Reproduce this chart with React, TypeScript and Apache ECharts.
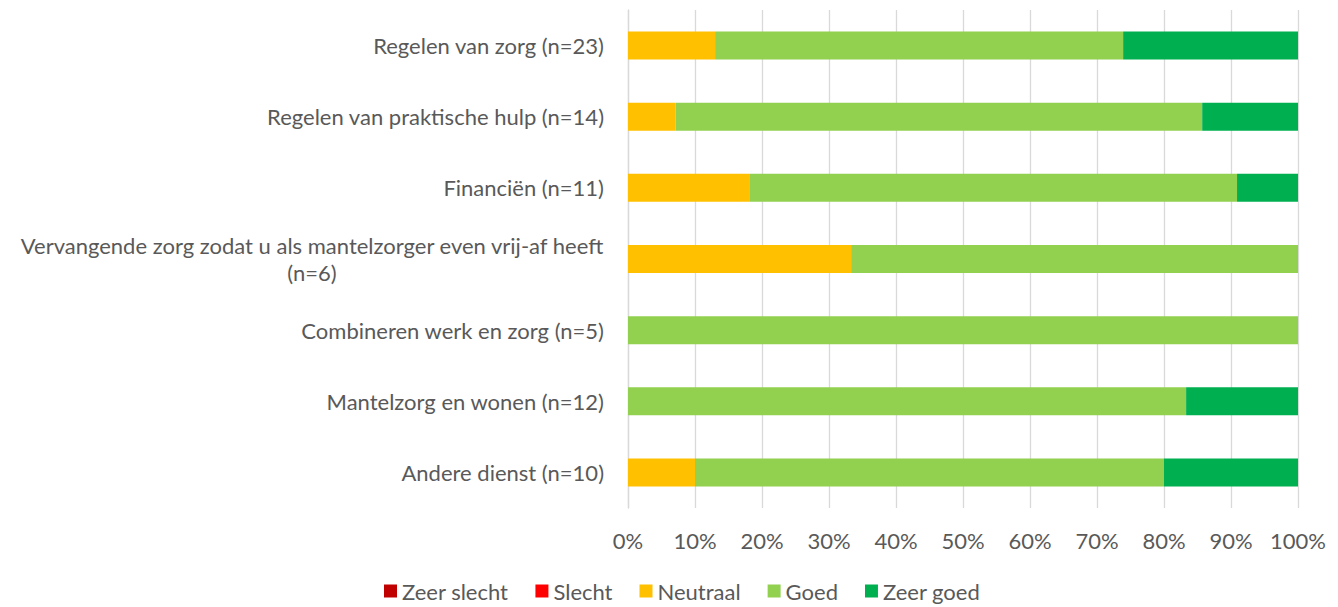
import React, { useEffect, useRef } from "react";
import * as echarts from "echarts";

const categories = [
  "Regelen van zorg (n=23)",
  "Regelen van praktische hulp (n=14)",
  "Financiën (n=11)",
  "Vervangende zorg zodat u als mantelzorger even vrij-af heeft\n(n=6)",
  "Combineren werk en zorg (n=5)",
  "Mantelzorg en wonen (n=12)",
  "Andere dienst (n=10)",
];

const seriesNames = ["Zeer slecht", "Slecht", "Neutraal", "Goed", "Zeer goed"];
const seriesColors = ["#C00000", "#FF0000", "#FFC000", "#92D050", "#00B050"];

const zeerSlecht = [0, 0, 0, 0, 0, 0, 0];
const slecht = [0, 0, 0, 0, 0, 0, 0];
const neutraal = [13.0, 7.1, 18.2, 33.3, 0, 0, 10.0];
const goed = [60.9, 78.6, 72.7, 66.7, 100, 83.3, 70.0];
const zeerGoed = [26.1, 14.3, 9.1, 0, 0, 16.7, 20.0];

const xTicks = [0, 10, 20, 30, 40, 50, 60, 70, 80, 90, 100];

const FONT = "Lato, 'Open Sans', sans-serif";
const FONT_SIZE = 22;

function measure(text: string): number {
  const c = document.createElement("canvas");
  const ctx = c.getContext("2d");
  if (!ctx) return text.length * 10;
  ctx.font = `${FONT_SIZE}px Lato`;
  return Math.ceil(ctx.measureText(text).width);
}

export default function App() {
  const ref = useRef<HTMLDivElement>(null);
  useEffect(() => {
    if (!ref.current) return;
    const chart = echarts.init(ref.current, null, { renderer: "svg" });
    const allData = [zeerSlecht, slecht, neutraal, goed, zeerGoed];
    const lineWidths: Record<string, number> = {};
    categories.forEach((c) => {
      const lines = c.split("\n");
      lineWidths[c] = Math.max(...lines.map(measure));
    });
    chart.setOption({
      animation: false,
      grid: { left: 628, right: 40, top: 10, bottom: 99, containLabel: false },
      legend: {
        bottom: 0,
        left: 379,
        itemWidth: 13,
        itemHeight: 13,
        itemGap: 27,
        icon: "rect",
        textStyle: { fontFamily: FONT, fontSize: FONT_SIZE, color: "#595959" },
        data: seriesNames,
      },
      xAxis: {
        type: "value",
        min: 0,
        max: 100,
        interval: 10,
        axisLine: { show: false },
        axisTick: { show: false },
        splitLine: { lineStyle: { color: "#D9D9D9", width: 1.3 } },
        axisLabel: {
          margin: 21,
          fontFamily: FONT,
          fontSize: FONT_SIZE,
          color: "#595959",
          formatter: (v: number) => (xTicks.includes(v) ? `${v}%` : ""),
        },
      },
      yAxis: {
        type: "category",
        inverse: true,
        data: categories,
        axisLine: { show: true, lineStyle: { color: "#D9D9D9", width: 1.3 } },
        axisTick: { show: false },
        axisLabel: {
          margin: 24,
          fontFamily: FONT,
          fontSize: FONT_SIZE,
          color: "#595959",
          lineHeight: 27,
          formatter: (v: string) => {
            const lines = v.split("\n");
            if (lines.length === 1) return v;
            return lines.map((l) => `{c|${l}}`).join("\n");
          },
          rich: {
            c: {
              width: lineWidths[categories[3]],
              align: "center",
              fontFamily: FONT,
              fontSize: FONT_SIZE,
              color: "#595959",
              lineHeight: 27,
            },
          },
        },
      },
      series: seriesNames.map((name, i) => ({
        name,
        type: "bar",
        stack: "total",
        barWidth: 28,
        itemStyle: { color: seriesColors[i] },
        data: allData[i],
      })),
    });
    return () => chart.dispose();
  }, []);
  return (
    <div
      ref={ref}
      style={{ position: "absolute", left: 0, top: 0, width: 1338, height: 607 }}
    />
  );
}
